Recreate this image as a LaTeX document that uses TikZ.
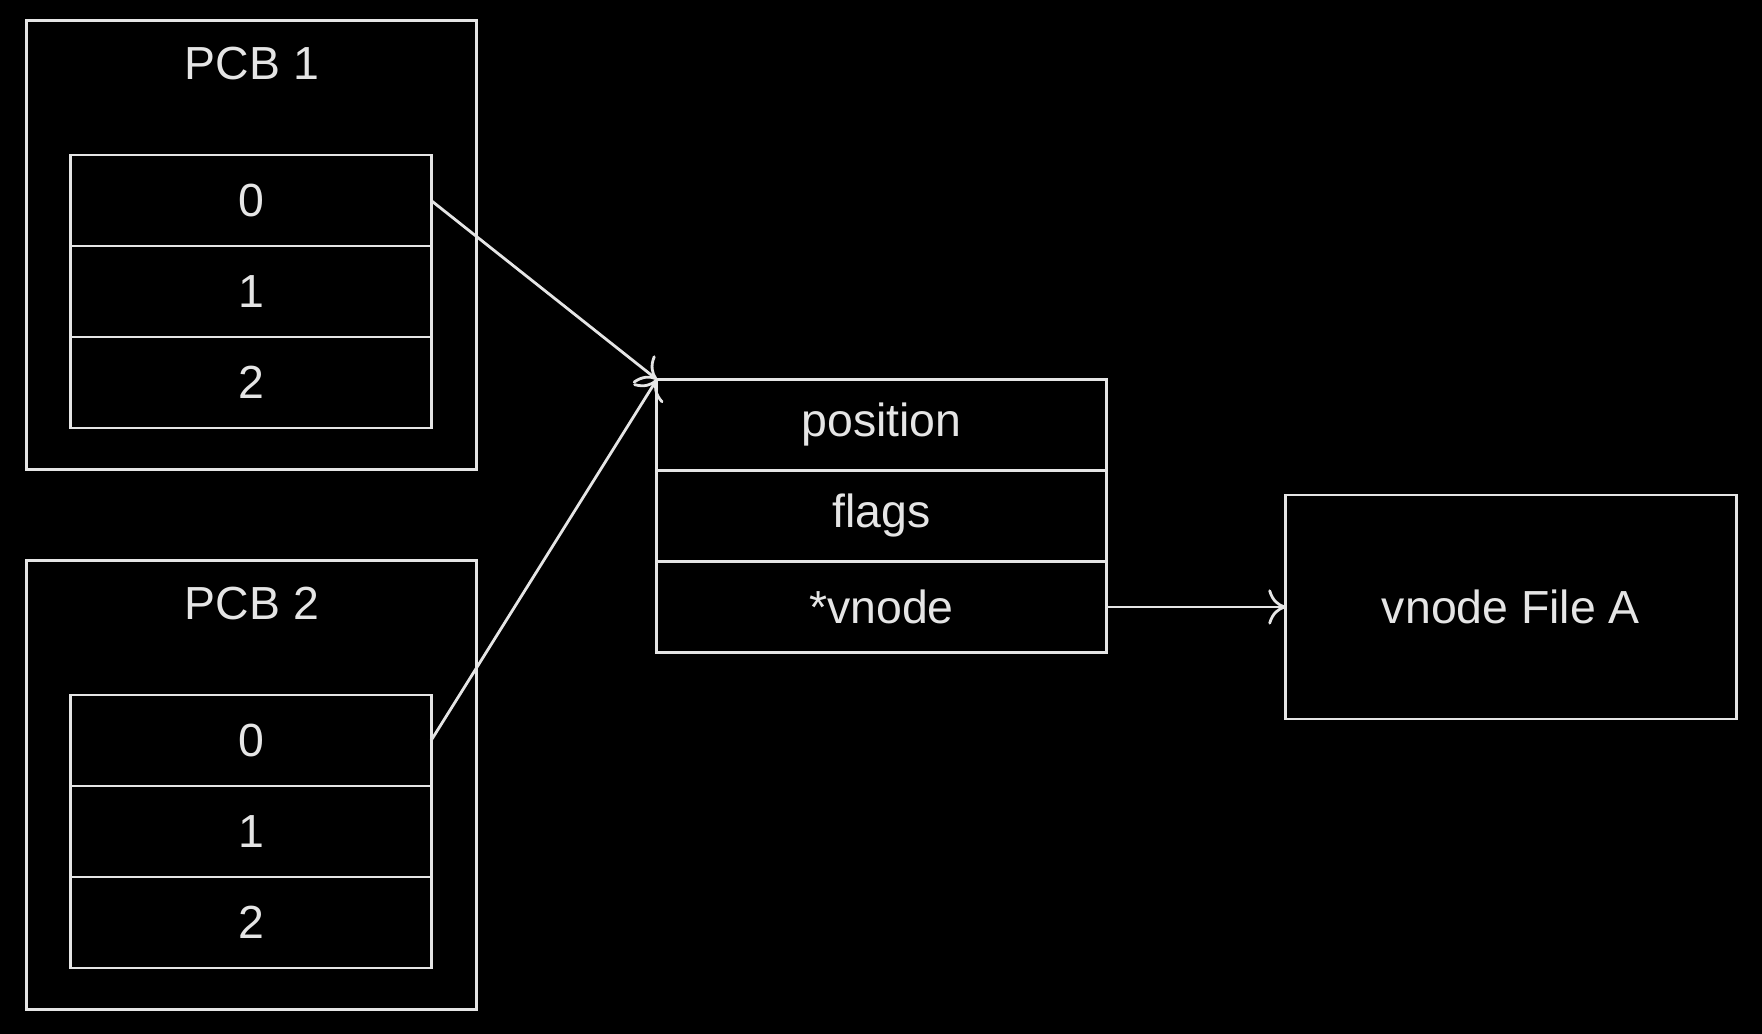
\documentclass[tikz,border=0pt]{standalone}
\usepackage{fontspec}
\setmainfont{Liberation Sans}
\usetikzlibrary{arrows.meta}

\begin{document}
\begin{tikzpicture}[x=0.01cm, y=-0.01cm, line width=0.8pt, color=white!90!black,
  font=\fontsize{13.2}{16}\selectfont,
  cell/.style={draw, minimum width=3.6cm, minimum height=0.91cm, inner sep=0pt, outer sep=0pt},
  field/.style={cell, minimum width=4.49cm},
  pcb/.style={draw, minimum width=4.49cm, minimum height=4.48cm, outer sep=0pt},
  ptr/.style={-{To[length=5pt, width=10pt]}}]
\fill[black] (0,0) rectangle (1762,1034);
\node[pcb] (pcb1) at (251.5,245) {};
\node (t1) at (252,64) {PCB 1};
\foreach \v [count=\i] in {0,1,2}
  \node[cell] (p1r\v) at (251,109.5+91*\i) {\v};
\node[pcb] (pcb2) at (251.5,785) {};
\node (t2) at (252,604) {PCB 2};
\foreach \v [count=\i] in {0,1,2}
  \node[cell] (p2r\v) at (251,649.5+91*\i) {\v};
\foreach \f/\n [count=\i] in {position/m0, flags/m1, *vnode/m2}
  \node[field] (\n) at (881.5,334+91*\i) {\f};
\node[draw, minimum width=4.5cm, minimum height=2.24cm, outer sep=0pt] (vn) at (1511,607) {vnode File A};
\draw[ptr] (p1r0.east) -- (m0.north west);
\draw[ptr] (p2r0.east) -- (m0.north west);
\draw[ptr] (m2.east) -- (vn.west);
\end{tikzpicture}
\end{document}
